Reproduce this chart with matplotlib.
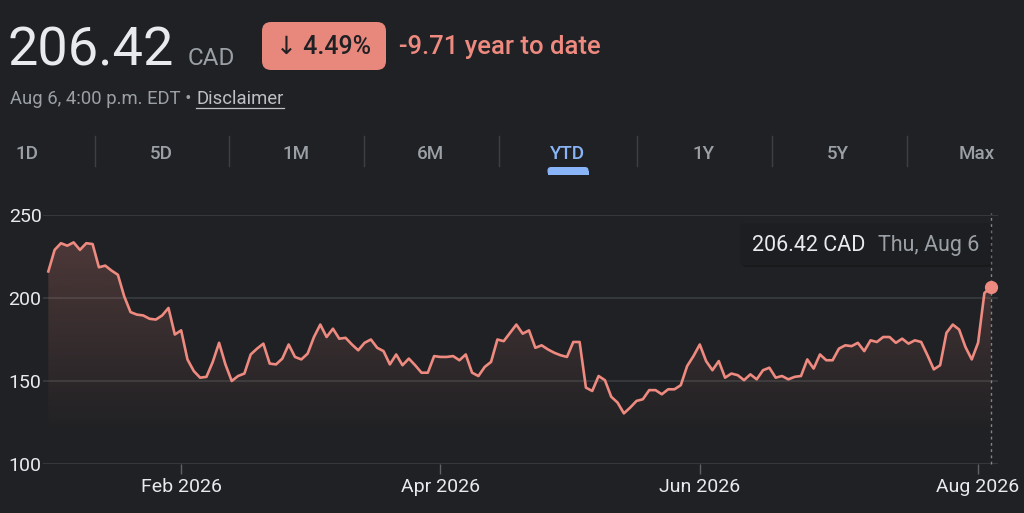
import matplotlib
matplotlib.use("Agg")
import matplotlib.pyplot as plt
import numpy as np
import pandas as pd
from matplotlib.patches import FancyBboxPatch, Polygon, Rectangle

plt.rcParams["font.family"] = ["Roboto", "DejaVu Sans"]

BG = "#202124"
RED = "#ee8a7f"
GRID = "#3c4043"
GREY = "#9aa0a6"
WHITE = "#e8eaed"

# daily closes (CAD), TSX trading days Jan 2 -> Aug 6 2026
prices = [
    216, 229, 233, 231.5, 233.5, 229, 233, 232.5, 218.5, 219.5,
    216.5, 214, 201, 191.5, 190, 189.5, 187.5, 187, 189.5, 194,
    178, 180.5, 163, 156, 152, 152.5, 161.5, 173, 160, 150,
    153, 154.5, 166, 169.5, 172.5, 160.5, 160, 163.5, 172, 164.5,
    163, 166.5, 176.5, 184, 176.5, 181.5, 175.5, 176, 172, 168.5,
    173, 175, 170, 168, 160, 166, 159.5, 163.5, 159.5, 155,
    155, 165, 164.5, 164.5, 165, 162.5, 166, 155, 153, 158.5,
    161.5, 175, 174, 179, 184, 178.5, 180.5, 170, 171.5, 169,
    167, 165.5, 164.5, 173.5, 173.5, 146, 144, 153, 150.5, 140.5,
    137, 130.5, 134, 138, 139, 144.5, 144.5, 142, 145, 145,
    147.5, 159, 165, 172, 162, 156.5, 162, 152, 154.5, 153.5,
    150.5, 154, 151, 156.5, 158, 152, 153, 151, 152.5, 153,
    163, 157.5, 166, 162.5, 162.5, 169.5, 171.5, 171, 173, 168,
    174.5, 173.5, 176.5, 176.5, 173, 175.5, 172.5, 174.5, 173.5, 165.5,
    157, 159.5, 179, 184, 181, 170.5, 163, 173, 203, 206.42,
]
holidays = ["2026-02-16", "2026-04-03", "2026-05-18", "2026-07-01", "2026-08-03"]
dates = pd.bdate_range("2026-01-02", "2026-08-06", freq="C", holidays=holidays)

y_ticks = [100, 150, 200, 250]
month_starts = ["2026-02-01", "2026-04-01", "2026-06-01", "2026-08-01"]
month_labels = ["Feb 2026", "Apr 2026", "Jun 2026", "Aug 2026"]
tabs = ["1D", "5D", "1M", "6M", "YTD", "1Y", "5Y", "Max"]
active_tab = "YTD"

x = np.arange(len(prices))
tick_pos = [int(np.searchsorted(dates, pd.Timestamp(m))) for m in month_starts]

fig = plt.figure(figsize=(10.24, 5.13), dpi=100, facecolor=BG)

# ── price chart ─────────────────────────────────────────────
ax = fig.add_axes([43 / 1024, 1 - 464 / 513, 955 / 1024, 249 / 513])
ax.set_facecolor(BG)
for s in ax.spines.values():
    s.set_visible(False)

for yv in y_ticks:
    ax.axhline(yv, color=GRID, lw=1.1, zorder=0)

# gradient under the line
verts = [(x[0], y_ticks[0])] + list(zip(x, prices)) + [(x[-1], y_ticks[0])]
clip = Polygon(verts, closed=True, facecolor="none", edgecolor="none")
ax.add_patch(clip)
rgb = matplotlib.colors.to_rgb(RED)
vals = np.linspace(100, max(prices), 256)
grad = np.zeros((256, 1, 4))
grad[:, 0, :3] = rgb
grad[:, 0, 3] = np.clip(0.22 * (vals - 118) / (max(prices) - 118), 0, 1)
im = ax.imshow(grad, extent=[x[0], x[-1], 100, max(prices)], origin="lower",
               aspect="auto", zorder=1, interpolation="bilinear")
im.set_clip_path(clip)

ax.plot(x, prices, color=RED, lw=1.9, zorder=3, solid_joinstyle="round")
ax.plot([x[-1], x[-1]], [100, 251.2], color=GREY, lw=1, ls=(0, (2, 2.5)),
        alpha=0.8, clip_on=False, zorder=2)
ax.plot(x[-1], prices[-1], "o", ms=8.5, color=RED, clip_on=False, zorder=5)

ax.set_xlim(-0.84, len(prices) - 1 + 1.15)
ax.set_ylim(100, 250)
ax.set_yticks(y_ticks)
ax.set_xticks(tick_pos)
ax.set_xticklabels(month_labels)
ax.tick_params(axis="y", length=0, pad=1, labelsize=14, labelcolor=WHITE)
ax.tick_params(axis="x", length=7, width=1, color="#5f6368", pad=3,
               labelsize=14, labelcolor=WHITE)

# ── header / overlay in pixel coordinates ───────────────────
ov = fig.add_axes([0, 0, 1, 1], facecolor="none")
ov.set_xlim(0, 1024)
ov.set_ylim(513, 0)
ov.axis("off")

ov.text(8, 66, "206.42", fontsize=39, color=WHITE, va="baseline")
ov.text(188, 65, "CAD", fontsize=17.5, color=GREY, va="baseline")

ov.add_patch(FancyBboxPatch((262, 22), 124, 48,
                            boxstyle="round,pad=0,rounding_size=9",
                            facecolor="#e8877c", edgecolor="none"))
ov.text(324, 54, "↓ 4.49%", fontsize=18, color=BG, ha="center",
        va="baseline", fontweight="medium")
ov.text(399, 54, "-9.71 year to date", fontsize=18.5, color=RED,
        va="baseline", fontweight="medium")

renderer = fig.canvas.get_renderer()
stamp = ov.text(10, 104.5, "Aug 6, 4:00 p.m. EDT •", fontsize=13.3,
                color=GREY, va="baseline")
x_end = stamp.get_window_extent(renderer=renderer).x1 + 5
disc = ov.text(x_end, 104.5, "Disclaimer", fontsize=13.3, color="#bdc1c6",
               va="baseline")
d_end = disc.get_window_extent(renderer=renderer).x1
ov.plot([x_end, d_end], [108, 108], color="#bdc1c6", lw=0.9)

tab_x = [27, 161, 296, 431, 568, 704, 838, 977]
for tx, label in zip(tab_x, tabs):
    ov.text(tx, 159, label, fontsize=13.5, ha="center", va="baseline",
            color="#8ab4f8" if label == active_tab else GREY,
            fontweight="medium")
for sx in [95, 229, 364, 499, 637, 772, 907]:
    ov.plot([sx, sx], [136, 166], color=GRID, lw=1)
ytd_x = tab_x[tabs.index(active_tab)]
ov.add_patch(FancyBboxPatch((ytd_x - 20.5, 167), 41, 8,
                            boxstyle="round,pad=0,rounding_size=3.5",
                            facecolor="#8ab4f8", edgecolor="none"))
ov.add_patch(Rectangle((ytd_x - 20.5, 171), 41, 3.5,
                       facecolor="#8ab4f8", edgecolor="none"))

# tooltip
ov.add_patch(FancyBboxPatch((742, 225), 250, 42,
                            boxstyle="round,pad=0,rounding_size=4",
                            facecolor="black", edgecolor="none", alpha=0.2))
ov.add_patch(FancyBboxPatch((740, 223), 250, 42,
                            boxstyle="round,pad=0,rounding_size=4",
                            facecolor="#1d1e21", edgecolor="none"))
ov.text(752, 251, f"{prices[-1]:.2f} CAD", fontsize=15.5, color=WHITE, va="baseline")
ov.text(878, 251, "Thu, " + dates[-1].strftime("%b %-d"), fontsize=15.5,
        color=GREY, va="baseline")

fig.savefig("out.png", dpi=100, facecolor=BG)
